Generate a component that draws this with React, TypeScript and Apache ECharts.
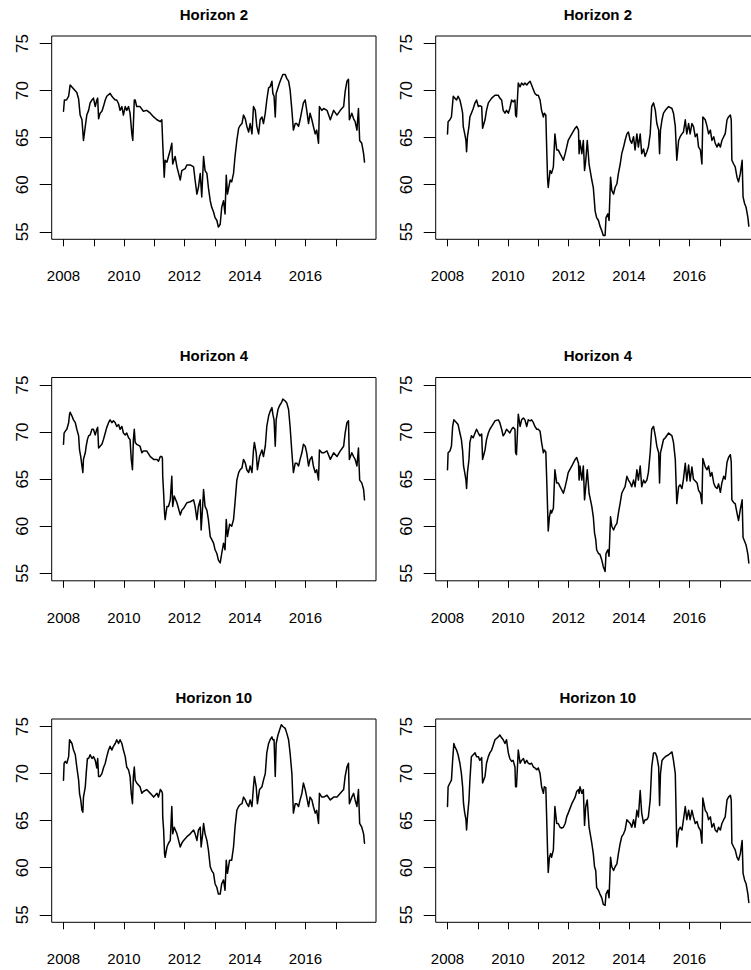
import React, { useEffect, useRef } from "react";
import * as echarts from "echarts";

type Pt = [number, number];

const yearTicks = [2008, 2009, 2010, 2011, 2012, 2013, 2014, 2015, 2016, 2017];
const yearLabels = [2008, 2010, 2012, 2014, 2016];
const valueTicks = [55, 60, 65, 70, 75];
const panelTitles = ["Horizon 2", "Horizon 2", "Horizon 4", "Horizon 4", "Horizon 10", "Horizon 10"];

const horizon2Left: Pt[] = [
  [2008.00,67.8],[2008.03,69.0],[2008.10,69.0],[2008.17,69.4],[2008.22,70.6],[2008.33,70.2],[2008.44,69.8],[2008.50,69.1],[2008.55,67.4],[2008.61,66.9],[2008.64,65.6],[2008.66,64.7],[2008.72,66.2],[2008.77,67.4],[2008.83,67.9],[2008.88,68.7],[2008.94,69.0],[2008.99,69.2],[2009.05,68.3],[2009.10,69.0],[2009.13,69.2],[2009.16,67.0],[2009.21,67.6],[2009.27,67.8],[2009.32,68.3],[2009.38,69.0],[2009.43,69.4],[2009.54,69.7],[2009.60,69.4],[2009.65,69.2],[2009.71,69.0],[2009.76,69.0],[2009.82,68.6],[2009.87,67.9],[2009.93,68.3],[2009.98,67.4],[2010.04,68.3],[2010.09,67.9],[2010.15,68.3],[2010.20,67.6],[2010.26,65.4],[2010.29,64.7],[2010.34,69.0],[2010.37,69.0],[2010.42,68.3],[2010.53,68.3],[2010.64,67.8],[2010.75,67.9],[2010.87,67.6],[2010.98,67.2],[2011.09,66.9],[2011.20,66.7],[2011.25,66.9],[2011.27,66.9],[2011.28,64.4],[2011.33,60.8],[2011.36,62.6],[2011.42,62.4],[2011.47,63.0],[2011.53,63.7],[2011.58,64.4],[2011.61,62.2],[2011.69,63.0],[2011.75,61.9],[2011.86,60.5],[2011.91,61.5],[2012.02,61.7],[2012.08,62.1],[2012.19,62.1],[2012.30,61.9],[2012.35,60.5],[2012.41,59.0],[2012.46,59.7],[2012.52,61.2],[2012.57,58.7],[2012.63,63.0],[2012.68,61.5],[2012.74,61.2],[2012.79,59.7],[2012.85,58.3],[2012.90,57.6],[2012.96,57.1],[2013.01,56.5],[2013.07,56.2],[2013.12,55.5],[2013.18,55.8],[2013.23,57.6],[2013.29,58.3],[2013.34,56.9],[2013.38,61.0],[2013.42,59.0],[2013.51,60.5],[2013.56,60.3],[2013.62,61.2],[2013.67,63.0],[2013.73,64.7],[2013.79,66.0],[2013.84,66.3],[2013.90,66.5],[2013.95,67.4],[2014.01,67.0],[2014.06,66.2],[2014.12,65.6],[2014.17,66.5],[2014.23,65.4],[2014.28,68.3],[2014.34,67.9],[2014.39,66.2],[2014.45,65.4],[2014.50,66.9],[2014.56,67.2],[2014.61,66.5],[2014.67,67.6],[2014.72,69.0],[2014.78,70.3],[2014.83,70.4],[2014.89,71.0],[2014.92,69.7],[2014.96,69.4],[2015.00,67.2],[2015.03,69.7],[2015.09,70.3],[2015.14,70.8],[2015.20,71.3],[2015.25,71.7],[2015.33,71.7],[2015.38,71.3],[2015.44,71.0],[2015.49,70.1],[2015.55,67.9],[2015.60,65.8],[2015.66,66.5],[2015.71,66.5],[2015.77,66.2],[2015.82,66.9],[2015.88,67.9],[2015.93,68.7],[2015.99,69.0],[2016.04,67.9],[2016.10,66.5],[2016.15,67.6],[2016.21,66.9],[2016.26,66.2],[2016.32,65.4],[2016.37,65.8],[2016.43,64.4],[2016.46,68.3],[2016.54,67.9],[2016.60,68.1],[2016.71,67.9],[2016.82,66.9],[2016.93,67.9],[2017.04,67.4],[2017.15,67.9],[2017.26,68.3],[2017.31,69.9],[2017.37,71.0],[2017.42,71.2],[2017.45,66.9],[2017.53,67.6],[2017.59,67.0],[2017.64,66.7],[2017.70,65.8],[2017.75,68.1],[2017.79,64.7],[2017.86,64.4],[2017.92,63.3],[2017.95,62.4]
];

const horizon2Right: Pt[] = [
  [2008.00,65.4],[2008.02,66.7],[2008.08,66.9],[2008.13,67.2],[2008.19,69.4],[2008.24,69.2],[2008.30,69.0],[2008.35,69.4],[2008.41,69.0],[2008.46,68.3],[2008.50,67.6],[2008.52,66.2],[2008.57,65.4],[2008.61,64.7],[2008.63,63.5],[2008.66,65.1],[2008.71,66.2],[2008.74,67.2],[2008.79,67.6],[2008.85,68.1],[2008.91,68.7],[2008.96,69.0],[2009.02,68.3],[2009.07,68.4],[2009.13,68.3],[2009.16,66.0],[2009.24,66.9],[2009.29,67.9],[2009.35,68.7],[2009.46,69.2],[2009.57,69.5],[2009.68,69.5],[2009.73,69.2],[2009.79,69.0],[2009.84,67.9],[2009.90,67.6],[2009.95,67.9],[2010.01,67.6],[2010.06,68.1],[2010.12,69.0],[2010.17,68.8],[2010.23,69.0],[2010.25,67.4],[2010.28,67.2],[2010.34,70.8],[2010.40,70.4],[2010.45,70.8],[2010.51,70.6],[2010.56,70.8],[2010.62,70.6],[2010.67,70.8],[2010.73,71.0],[2010.78,70.6],[2010.84,70.1],[2010.89,69.7],[2010.95,69.5],[2011.00,69.5],[2011.06,69.0],[2011.11,67.9],[2011.17,67.2],[2011.20,67.6],[2011.25,67.4],[2011.28,63.7],[2011.31,60.5],[2011.33,59.7],[2011.39,61.5],[2011.44,61.2],[2011.50,61.9],[2011.55,65.4],[2011.61,63.7],[2011.66,63.7],[2011.72,63.3],[2011.77,63.0],[2011.83,62.6],[2011.89,63.3],[2011.94,64.0],[2011.99,64.7],[2012.11,65.4],[2012.22,66.0],[2012.27,66.2],[2012.33,65.8],[2012.35,63.3],[2012.38,64.7],[2012.44,63.3],[2012.49,64.7],[2012.53,61.5],[2012.57,62.6],[2012.62,64.7],[2012.68,62.2],[2012.77,60.5],[2012.82,59.7],[2012.88,57.2],[2012.93,56.5],[2012.99,56.2],[2013.04,55.6],[2013.10,55.1],[2013.15,54.6],[2013.21,54.6],[2013.24,56.5],[2013.30,56.9],[2013.34,56.2],[2013.39,60.8],[2013.43,59.4],[2013.49,59.0],[2013.54,59.7],[2013.60,60.1],[2013.65,61.2],[2013.71,62.2],[2013.76,63.3],[2013.82,64.0],[2013.87,64.7],[2013.93,65.4],[2013.98,65.6],[2014.04,64.7],[2014.09,64.4],[2014.15,65.1],[2014.20,63.7],[2014.26,65.4],[2014.31,64.0],[2014.37,65.4],[2014.42,63.3],[2014.48,63.8],[2014.53,63.0],[2014.59,63.5],[2014.64,64.0],[2014.70,65.4],[2014.75,68.3],[2014.81,68.7],[2014.87,67.9],[2014.92,66.5],[2014.98,65.8],[2015.01,63.3],[2015.04,65.8],[2015.09,66.9],[2015.14,67.6],[2015.20,67.9],[2015.31,68.3],[2015.42,68.1],[2015.47,67.6],[2015.53,66.2],[2015.58,62.6],[2015.64,64.7],[2015.69,65.1],[2015.75,65.4],[2015.80,65.6],[2015.86,66.9],[2015.91,65.4],[2015.97,66.5],[2016.02,65.4],[2016.08,66.5],[2016.13,66.2],[2016.19,65.1],[2016.25,65.4],[2016.30,64.0],[2016.36,63.7],[2016.41,62.2],[2016.44,67.2],[2016.52,66.9],[2016.58,66.2],[2016.63,65.4],[2016.69,65.8],[2016.74,64.7],[2016.80,65.1],[2016.85,64.4],[2016.91,64.0],[2016.96,64.4],[2017.02,64.0],[2017.07,64.7],[2017.13,65.1],[2017.18,65.4],[2017.24,66.9],[2017.29,67.2],[2017.35,67.4],[2017.38,66.9],[2017.40,62.6],[2017.46,62.2],[2017.51,61.9],[2017.57,60.8],[2017.62,60.3],[2017.68,61.2],[2017.74,62.6],[2017.77,58.7],[2017.82,58.0],[2017.87,57.6],[2017.93,56.5],[2017.96,55.6]
];

const horizon4Left: Pt[] = [
  [2008.00,68.7],[2008.02,69.9],[2008.06,70.1],[2008.11,70.3],[2008.17,71.0],[2008.20,71.9],[2008.22,72.1],[2008.28,71.7],[2008.33,71.3],[2008.39,71.0],[2008.44,70.3],[2008.50,69.6],[2008.53,68.1],[2008.57,67.4],[2008.61,66.4],[2008.64,65.7],[2008.66,67.1],[2008.72,67.8],[2008.75,68.5],[2008.79,69.2],[2008.83,69.6],[2008.88,69.7],[2008.94,70.3],[2008.99,70.3],[2009.05,69.7],[2009.10,70.3],[2009.13,70.5],[2009.16,68.3],[2009.21,68.5],[2009.27,68.7],[2009.32,69.2],[2009.38,69.9],[2009.43,70.5],[2009.49,71.0],[2009.54,71.3],[2009.60,71.0],[2009.65,71.2],[2009.71,71.0],[2009.76,70.6],[2009.82,70.8],[2009.87,70.3],[2009.93,70.6],[2009.98,69.9],[2010.04,69.7],[2010.09,69.9],[2010.15,69.4],[2010.20,69.2],[2010.24,67.1],[2010.28,66.0],[2010.31,69.2],[2010.34,70.3],[2010.37,68.9],[2010.42,68.7],[2010.53,68.5],[2010.59,67.8],[2010.64,68.0],[2010.75,68.0],[2010.87,67.4],[2010.98,67.1],[2011.09,67.1],[2011.14,66.9],[2011.20,67.4],[2011.25,67.4],[2011.27,67.2],[2011.28,65.3],[2011.31,63.5],[2011.34,61.4],[2011.36,60.7],[2011.42,62.1],[2011.47,62.1],[2011.53,62.8],[2011.58,65.3],[2011.61,62.1],[2011.66,63.2],[2011.75,62.5],[2011.86,61.2],[2011.91,61.7],[2011.97,61.9],[2012.08,62.5],[2012.19,62.6],[2012.30,62.8],[2012.35,62.1],[2012.41,60.7],[2012.46,62.1],[2012.52,62.8],[2012.55,59.6],[2012.60,62.1],[2012.63,63.9],[2012.68,62.1],[2012.74,61.7],[2012.79,60.7],[2012.85,58.9],[2012.90,58.6],[2012.96,58.2],[2013.01,57.5],[2013.07,57.1],[2013.12,56.4],[2013.18,56.1],[2013.23,57.1],[2013.29,58.2],[2013.34,57.5],[2013.38,60.7],[2013.42,58.9],[2013.49,60.2],[2013.56,60.0],[2013.62,60.7],[2013.67,62.5],[2013.73,64.9],[2013.79,65.7],[2013.84,66.0],[2013.90,66.2],[2013.95,67.1],[2014.01,66.7],[2014.06,66.0],[2014.12,65.7],[2014.17,66.4],[2014.23,65.7],[2014.28,68.1],[2014.31,68.9],[2014.37,67.8],[2014.41,66.0],[2014.48,67.4],[2014.56,68.1],[2014.61,67.4],[2014.67,68.5],[2014.72,70.6],[2014.78,71.7],[2014.83,72.2],[2014.89,72.6],[2014.92,71.9],[2014.96,71.3],[2015.00,68.5],[2015.03,71.3],[2015.09,72.4],[2015.14,72.8],[2015.20,73.1],[2015.25,73.5],[2015.33,73.3],[2015.38,73.1],[2015.44,72.4],[2015.49,70.6],[2015.55,67.8],[2015.60,65.7],[2015.66,66.7],[2015.71,66.7],[2015.77,66.4],[2015.82,67.1],[2015.88,67.8],[2015.93,68.7],[2015.99,68.5],[2016.04,67.8],[2016.10,66.4],[2016.15,67.1],[2016.21,67.4],[2016.26,66.4],[2016.32,65.7],[2016.37,66.0],[2016.43,64.9],[2016.46,68.1],[2016.54,67.8],[2016.60,67.8],[2016.71,68.0],[2016.82,67.1],[2016.93,67.8],[2017.04,67.4],[2017.15,68.0],[2017.26,68.5],[2017.31,69.9],[2017.37,71.0],[2017.42,71.2],[2017.45,67.1],[2017.53,67.8],[2017.59,67.4],[2017.64,67.1],[2017.70,66.4],[2017.75,68.3],[2017.79,64.9],[2017.86,64.6],[2017.92,63.9],[2017.95,62.8]
];

const horizon4Right: Pt[] = [
  [2008.00,66.0],[2008.02,67.8],[2008.08,68.0],[2008.13,68.5],[2008.17,70.6],[2008.21,71.3],[2008.24,71.2],[2008.30,71.0],[2008.35,70.8],[2008.41,69.9],[2008.46,69.2],[2008.50,68.0],[2008.53,66.4],[2008.57,65.7],[2008.61,64.9],[2008.63,64.0],[2008.66,65.7],[2008.71,67.1],[2008.74,68.9],[2008.79,69.6],[2008.85,69.4],[2008.91,69.9],[2008.96,70.3],[2009.02,69.9],[2009.07,69.6],[2009.13,69.8],[2009.16,67.1],[2009.24,68.1],[2009.29,69.2],[2009.35,69.9],[2009.40,70.3],[2009.46,70.6],[2009.57,71.2],[2009.68,71.3],[2009.73,71.0],[2009.79,70.3],[2009.84,69.6],[2009.90,69.9],[2009.95,70.3],[2010.01,70.1],[2010.06,69.9],[2010.12,70.3],[2010.17,70.5],[2010.23,70.3],[2010.25,67.8],[2010.28,67.6],[2010.34,71.9],[2010.40,70.6],[2010.45,71.3],[2010.51,71.5],[2010.56,71.3],[2010.62,70.6],[2010.67,71.3],[2010.73,71.2],[2010.78,71.3],[2010.84,71.0],[2010.89,70.6],[2010.95,70.3],[2011.00,70.3],[2011.06,70.1],[2011.11,68.9],[2011.17,67.8],[2011.20,68.1],[2011.25,67.9],[2011.28,64.9],[2011.31,61.7],[2011.33,59.5],[2011.37,61.0],[2011.41,61.7],[2011.44,61.4],[2011.50,61.9],[2011.55,66.0],[2011.61,64.6],[2011.66,64.6],[2011.72,64.2],[2011.77,63.9],[2011.83,63.5],[2011.89,64.2],[2011.94,64.9],[2011.99,65.7],[2012.11,66.4],[2012.22,67.1],[2012.27,67.3],[2012.33,66.7],[2012.35,64.9],[2012.38,66.4],[2012.44,64.9],[2012.49,66.4],[2012.53,62.8],[2012.57,64.2],[2012.62,66.0],[2012.68,63.5],[2012.77,62.1],[2012.82,61.0],[2012.86,59.3],[2012.90,58.6],[2012.93,57.5],[2012.99,57.1],[2013.04,57.0],[2013.10,56.4],[2013.15,55.7],[2013.21,55.2],[2013.24,57.1],[2013.30,57.5],[2013.34,56.8],[2013.39,61.0],[2013.43,60.0],[2013.49,59.6],[2013.54,60.0],[2013.60,60.3],[2013.65,61.4],[2013.71,62.5],[2013.76,63.5],[2013.82,63.9],[2013.87,64.2],[2013.93,65.3],[2013.98,64.9],[2014.04,64.6],[2014.09,64.2],[2014.15,64.9],[2014.20,64.2],[2014.26,66.0],[2014.31,64.9],[2014.37,66.4],[2014.42,64.2],[2014.48,64.9],[2014.53,64.6],[2014.59,64.9],[2014.64,65.7],[2014.70,67.8],[2014.75,70.3],[2014.81,70.6],[2014.87,69.6],[2014.92,68.5],[2014.98,67.8],[2015.01,64.6],[2015.04,67.8],[2015.09,68.5],[2015.14,69.2],[2015.20,69.4],[2015.31,69.9],[2015.42,69.6],[2015.47,68.9],[2015.53,67.1],[2015.58,62.4],[2015.64,64.2],[2015.69,64.4],[2015.75,64.0],[2015.80,65.0],[2015.86,66.7],[2015.91,64.8],[2015.97,66.5],[2016.02,64.8],[2016.08,66.3],[2016.13,65.0],[2016.19,64.8],[2016.25,64.6],[2016.30,63.8],[2016.36,63.5],[2016.41,62.4],[2016.44,67.2],[2016.52,66.3],[2016.58,66.0],[2016.63,66.4],[2016.69,65.3],[2016.74,65.7],[2016.80,64.6],[2016.85,64.2],[2016.91,64.0],[2016.96,64.5],[2017.02,63.6],[2017.07,64.6],[2017.13,65.3],[2017.18,65.0],[2017.24,66.8],[2017.29,67.3],[2017.35,67.6],[2017.38,66.8],[2017.40,62.8],[2017.46,62.5],[2017.51,62.4],[2017.57,61.4],[2017.62,60.6],[2017.68,61.8],[2017.74,62.8],[2017.77,58.8],[2017.82,58.4],[2017.87,58.0],[2017.93,57.0],[2017.96,56.1]
];

const horizon10Left: Pt[] = [
  [2008.00,69.3],[2008.02,71.1],[2008.06,71.3],[2008.11,71.1],[2008.17,71.8],[2008.20,73.6],[2008.22,73.6],[2008.28,73.2],[2008.33,72.5],[2008.39,72.0],[2008.44,70.7],[2008.50,69.3],[2008.53,67.9],[2008.57,67.2],[2008.61,66.1],[2008.64,65.9],[2008.66,67.5],[2008.72,68.6],[2008.75,70.0],[2008.79,71.6],[2008.83,71.6],[2008.88,72.0],[2008.94,71.6],[2008.99,71.8],[2009.05,71.4],[2009.10,70.6],[2009.13,71.6],[2009.16,69.7],[2009.21,69.7],[2009.27,70.0],[2009.32,70.6],[2009.38,71.1],[2009.43,71.8],[2009.49,72.5],[2009.54,72.9],[2009.60,72.5],[2009.65,72.9],[2009.71,73.2],[2009.76,73.6],[2009.82,73.2],[2009.87,73.6],[2009.93,73.2],[2009.98,72.5],[2010.04,71.8],[2010.09,70.7],[2010.15,70.4],[2010.20,69.7],[2010.24,67.9],[2010.28,66.8],[2010.31,69.7],[2010.34,70.7],[2010.37,69.3],[2010.42,69.0],[2010.53,68.6],[2010.59,67.9],[2010.64,68.1],[2010.75,68.3],[2010.87,67.9],[2010.98,67.5],[2011.09,67.9],[2011.14,67.5],[2011.20,68.3],[2011.25,68.1],[2011.27,67.9],[2011.28,65.4],[2011.31,64.0],[2011.34,61.5],[2011.36,61.1],[2011.42,62.2],[2011.47,62.6],[2011.53,62.9],[2011.58,66.5],[2011.61,63.6],[2011.66,64.3],[2011.75,63.6],[2011.86,62.2],[2011.91,62.6],[2011.97,62.9],[2012.08,63.3],[2012.19,63.6],[2012.30,64.0],[2012.35,63.6],[2012.41,62.9],[2012.46,64.0],[2012.52,64.3],[2012.55,62.2],[2012.60,63.6],[2012.63,64.7],[2012.68,63.6],[2012.74,62.9],[2012.79,61.9],[2012.85,60.1],[2012.90,59.7],[2012.96,59.4],[2013.01,58.3],[2013.07,57.9],[2013.12,57.2],[2013.18,57.2],[2013.23,58.3],[2013.29,58.7],[2013.34,57.6],[2013.38,60.8],[2013.42,59.4],[2013.49,60.8],[2013.56,60.8],[2013.62,62.2],[2013.67,64.3],[2013.73,66.1],[2013.79,66.5],[2013.84,66.7],[2013.90,66.8],[2013.95,67.5],[2014.01,67.2],[2014.06,66.8],[2014.12,66.5],[2014.17,67.2],[2014.23,66.5],[2014.28,68.6],[2014.31,69.7],[2014.37,68.6],[2014.41,66.8],[2014.48,68.3],[2014.56,68.6],[2014.61,69.3],[2014.67,70.0],[2014.72,72.2],[2014.78,73.2],[2014.83,73.6],[2014.89,73.9],[2014.92,73.6],[2014.96,73.6],[2015.00,69.7],[2015.03,73.2],[2015.09,74.1],[2015.14,74.6],[2015.20,75.2],[2015.25,75.0],[2015.33,74.8],[2015.38,74.3],[2015.44,73.6],[2015.49,72.2],[2015.55,70.0],[2015.60,65.8],[2015.66,66.8],[2015.71,66.8],[2015.77,66.5],[2015.82,67.2],[2015.88,67.9],[2015.93,69.0],[2015.99,68.3],[2016.04,67.5],[2016.10,66.5],[2016.15,67.5],[2016.21,67.2],[2016.26,66.5],[2016.32,65.8],[2016.37,66.1],[2016.43,64.7],[2016.46,67.9],[2016.54,67.5],[2016.60,67.5],[2016.71,67.7],[2016.82,67.2],[2016.93,67.5],[2017.04,67.5],[2017.15,67.9],[2017.26,68.3],[2017.31,69.7],[2017.37,70.7],[2017.42,71.1],[2017.45,66.8],[2017.53,67.5],[2017.59,67.9],[2017.64,67.2],[2017.70,66.5],[2017.75,68.3],[2017.79,64.7],[2017.86,64.3],[2017.92,63.6],[2017.95,62.6]
];

const horizon10Right: Pt[] = [
  [2008.00,66.5],[2008.02,68.6],[2008.08,69.0],[2008.13,69.3],[2008.17,71.4],[2008.21,73.2],[2008.24,72.9],[2008.30,72.5],[2008.35,72.0],[2008.41,71.1],[2008.46,70.0],[2008.50,68.6],[2008.53,66.8],[2008.57,65.8],[2008.61,65.1],[2008.63,64.0],[2008.66,65.4],[2008.71,67.2],[2008.74,69.3],[2008.79,71.8],[2008.85,72.0],[2008.91,72.2],[2008.96,71.8],[2009.02,71.8],[2009.07,71.4],[2009.13,71.7],[2009.16,69.0],[2009.24,69.7],[2009.29,71.1],[2009.35,71.8],[2009.40,72.2],[2009.46,72.5],[2009.57,73.6],[2009.68,73.9],[2009.73,74.1],[2009.79,73.8],[2009.84,73.6],[2009.90,73.2],[2009.95,73.6],[2010.01,72.2],[2010.06,71.6],[2010.12,71.3],[2010.17,71.4],[2010.23,70.7],[2010.25,68.6],[2010.28,68.6],[2010.34,72.5],[2010.40,71.1],[2010.45,71.4],[2010.51,71.6],[2010.56,71.1],[2010.62,71.4],[2010.67,71.1],[2010.73,71.0],[2010.78,71.1],[2010.84,70.7],[2010.89,70.6],[2010.95,70.4],[2011.00,70.6],[2011.06,70.0],[2011.11,68.6],[2011.17,67.9],[2011.20,68.6],[2011.25,68.5],[2011.28,65.1],[2011.31,61.5],[2011.33,59.5],[2011.37,61.1],[2011.41,61.5],[2011.44,61.1],[2011.50,61.9],[2011.55,66.5],[2011.61,64.7],[2011.66,64.7],[2011.72,64.3],[2011.77,64.2],[2011.83,64.3],[2011.89,64.7],[2011.94,65.4],[2011.99,65.8],[2012.11,66.8],[2012.22,67.5],[2012.27,68.1],[2012.33,68.3],[2012.35,67.9],[2012.38,68.6],[2012.44,67.9],[2012.49,68.3],[2012.53,64.5],[2012.57,66.5],[2012.62,67.2],[2012.68,64.3],[2012.77,62.6],[2012.82,61.5],[2012.86,60.1],[2012.90,59.7],[2012.93,57.9],[2012.99,57.6],[2013.04,57.2],[2013.10,56.8],[2013.15,56.1],[2013.21,56.0],[2013.24,57.2],[2013.30,57.6],[2013.34,56.8],[2013.39,61.1],[2013.43,60.1],[2013.49,59.7],[2013.54,60.1],[2013.60,60.4],[2013.65,61.5],[2013.71,62.6],[2013.76,63.3],[2013.82,63.6],[2013.87,64.0],[2013.93,65.1],[2013.98,64.9],[2014.04,64.7],[2014.09,64.3],[2014.15,65.1],[2014.20,64.3],[2014.26,66.1],[2014.31,65.4],[2014.37,68.2],[2014.42,65.8],[2014.48,64.7],[2014.53,65.1],[2014.59,65.1],[2014.64,65.4],[2014.70,67.2],[2014.75,70.7],[2014.81,72.2],[2014.87,72.2],[2014.92,71.8],[2014.98,70.7],[2015.01,66.6],[2015.04,70.0],[2015.09,71.4],[2015.14,71.6],[2015.20,71.8],[2015.31,72.0],[2015.42,72.3],[2015.47,71.4],[2015.53,70.0],[2015.58,62.2],[2015.64,64.0],[2015.69,64.3],[2015.75,64.0],[2015.80,65.1],[2015.86,66.5],[2015.91,65.1],[2015.97,66.1],[2016.02,65.1],[2016.08,66.1],[2016.13,65.4],[2016.19,64.7],[2016.25,64.9],[2016.30,64.3],[2016.36,64.0],[2016.41,62.6],[2016.44,67.4],[2016.52,66.1],[2016.58,65.8],[2016.63,65.1],[2016.69,65.4],[2016.74,64.3],[2016.80,64.7],[2016.85,64.0],[2016.91,63.8],[2016.96,64.3],[2017.02,64.0],[2017.07,64.7],[2017.13,65.1],[2017.18,65.4],[2017.24,67.2],[2017.29,67.5],[2017.35,67.7],[2017.38,67.2],[2017.40,62.6],[2017.46,62.2],[2017.51,61.9],[2017.57,61.1],[2017.62,60.8],[2017.68,61.5],[2017.74,62.9],[2017.77,59.4],[2017.82,58.7],[2017.87,58.3],[2017.93,57.2],[2017.96,56.3]
];

const panelSeries: Pt[][] = [horizon2Left, horizon2Right, horizon4Left, horizon4Right, horizon10Left, horizon10Right];

const W = 751;
const H = 970;
const COL_X = [51.7, 435.7];
const ROW_Y = [36, 377.5, 719];
const BOX_W = 324.3;
const BOX_H = 203.3;
const X_MIN = 2007.61;
const X_MAX = 2018.33;
const Y_MIN = 54.2;
const Y_MAX = 75.8;
const FONT = "'Liberation Sans', Arial, Helvetica, sans-serif";

function buildOption(): any {
  const idx = panelSeries.map((_, i) => i);
  return {
    animation: false,
    backgroundColor: "#ffffff",
    grid: idx.map((i) => ({
      left: COL_X[i % 2],
      top: ROW_Y[Math.floor(i / 2)],
      width: BOX_W,
      height: BOX_H,
      show: true,
      borderColor: "#000",
      borderWidth: 1,
      backgroundColor: "transparent",
      containLabel: false,
      outerBoundsMode: "none",
    })),
    xAxis: idx.map((i) => ({
      gridIndex: i,
      type: "value",
      min: X_MIN,
      max: X_MAX,
      splitLine: { show: false },
      axisLine: { show: false },
      axisTick: { show: true, customValues: yearTicks, length: 7, lineStyle: { color: "#000", width: 1 } },
      axisLabel: {
        show: true,
        customValues: yearLabels,
        formatter: (v: number) => String(Math.round(v)),
        margin: 29,
        fontSize: 15,
        color: "#000",
        fontFamily: FONT,
      },
    })),
    yAxis: idx.map((i) => ({
      gridIndex: i,
      type: "value",
      min: Y_MIN,
      max: Y_MAX,
      splitLine: { show: false },
      axisLine: { show: false },
      axisTick: { show: true, customValues: valueTicks, length: 12, lineStyle: { color: "#000", width: 1 } },
      axisLabel: {
        show: true,
        customValues: valueTicks,
        rotate: 90,
        formatter: (v: number) => String(Math.round(v)),
        margin: 21,
        fontSize: 17,
        color: "#000",
        fontFamily: FONT,
      },
    })),
    series: idx.map((i) => ({
      type: "line",
      xAxisIndex: i,
      yAxisIndex: i,
      data: panelSeries[i],
      symbol: "none",
      showSymbol: false,
      silent: true,
      lineStyle: { color: "#000", width: 1.5, join: "round", cap: "round" },
    })),
    graphic: idx.map((i) => ({
      type: "text",
      x: COL_X[i % 2] + BOX_W / 2,
      y: ROW_Y[Math.floor(i / 2)] - 21.7,
      style: {
        text: panelTitles[i],
        fontSize: 15,
        fontWeight: "bold",
        fontFamily: FONT,
        fill: "#000",
        align: "center",
        verticalAlign: "middle",
      },
    })),
  };
}

export default function App() {
  const ref = useRef<HTMLDivElement>(null);
  useEffect(() => {
    if (!ref.current) return;
    const chart = echarts.init(ref.current, null, { renderer: "svg", width: W, height: H });
    chart.setOption(buildOption());
    return () => chart.dispose();
  }, []);
  return (
    <div
      ref={ref}
      style={{ position: "absolute", left: 0, top: 0, width: W, height: H, background: "#fff", overflow: "hidden" }}
    />
  );
}
